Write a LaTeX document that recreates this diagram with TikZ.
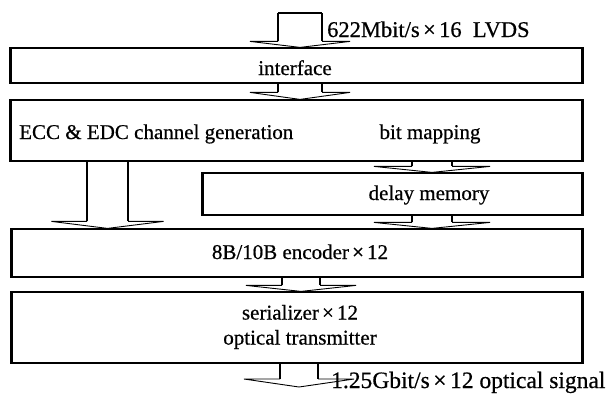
\documentclass[tikz,border=0pt]{standalone}
\usepackage{fontspec}
\setmainfont{Liberation Serif}[FakeBold=0.6]
\usetikzlibrary{calc}

% multiplication sign with a little room on each side
\newcommand\tms{\kern0.15em×\kern0.15em}

% block arrow: #1 start (shaft top), #2 tip, #3 shaft half-width,
% #4 head half-width, #5 head depth (all in pt)
\newcommand\blockarrow[5]{%
  \draw[shaftline] let \p1=(#1), \p2=(#2) in
    (\x1-#3pt,\y1) -- (\x1-#3pt,\y2+#5pt)
    (\x1+#3pt,\y1) -- (\x1+#3pt,\y2+#5pt);
  \draw[headline] let \p1=(#1), \p2=(#2) in
    (\x1-#3pt,\y2+#5pt) -- (\x1-#4pt,\y2+#5pt) -- (\x1,\y2)
    -- (\x1+#4pt,\y2+#5pt) -- (\x1+#3pt,\y2+#5pt);
}

\begin{document}
\begin{tikzpicture}[x=1pt,y=-1pt,
  box/.style={draw, line width=1.2pt, inner sep=0pt},
  vside/.style={line width=3.4pt},
  txt/.style={inner sep=0pt, font=\fontsize{21}{25}\selectfont},
  lbl/.style={inner sep=0pt, font=\fontsize{22.5}{26}\selectfont},
  shaftline/.style={line width=1.6pt},
  headline/.style={line width=0.9pt}]
\useasboundingbox (0,0) rectangle (609,394);

% blocks
\node[box, minimum width=571pt, minimum height=35pt] (ifc) at (296.5,65.5) {};
\node[box, minimum width=571pt, minimum height=61pt] (ecc) at (296.5,130.5) {};
\node[box, minimum width=379pt, minimum height=42pt] (dly) at (392.5,194) {};
\node[box, minimum width=570pt, minimum height=48pt] (enc) at (297,253) {};
\node[box, minimum width=570pt, minimum height=71pt] (ser) at (297,327.5) {};

% heavier left and right sides of the blocks
\foreach \b in {ifc,ecc,dly,enc,ser}
  \draw[vside] (\b.north west) -- (\b.south west) (\b.north east) -- (\b.south east);

% block texts
\node[txt, anchor=base] (ifct) at (295,75) {interface};
\node[txt, anchor=base west] (ecct) at (19,139) {ECC \& EDC channel generation};
\node[txt, anchor=base] (bmt) at (430,139) {bit mapping};
\node[txt, anchor=base] (dlyt) at (429,200) {delay memory};
\node[txt, anchor=base] (enct) at (300,259) {8B/10B encoder\tms12};
\node[txt, align=center] (sert) at (300,327) {serializer\tms12\\optical transmitter};

% input and output
\coordinate (inp) at (300,13);
\coordinate (outp) at (299,387);
\draw[shaftline] ($(inp)+(-22,0)$) -- ($(inp)+(22,0)$);
\blockarrow{inp}{ifc.north -| inp}{22}{50}{6}
\blockarrow{ifc.south -| 300,0}{ecc.north -| 300,0}{22}{50}{7}
\blockarrow{ecc.south -| 107.5,0}{enc.north -| 107.5,0}{20.5}{56}{7}
\blockarrow{ecc.south -| 432,0}{dly.north -| 432,0}{20}{58}{6}
\blockarrow{dly.south -| 432,0}{enc.north -| 432,0}{20}{58}{6}
\blockarrow{enc.south -| 301,0}{ser.north -| 301,0}{19}{55}{6}
\blockarrow{ser.south -| outp}{outp}{19}{55}{8}

% signal labels
\node[lbl, anchor=base west] (inlab) at (327,37) {622Mbit/s\tms16\ \ LVDS};
\node[lbl, anchor=base west, font=\fontsize{23.5}{27}\selectfont] (outlab) at (331,388) {1.25Gbit/s\tms12 optical signal};
\end{tikzpicture}
\end{document}
